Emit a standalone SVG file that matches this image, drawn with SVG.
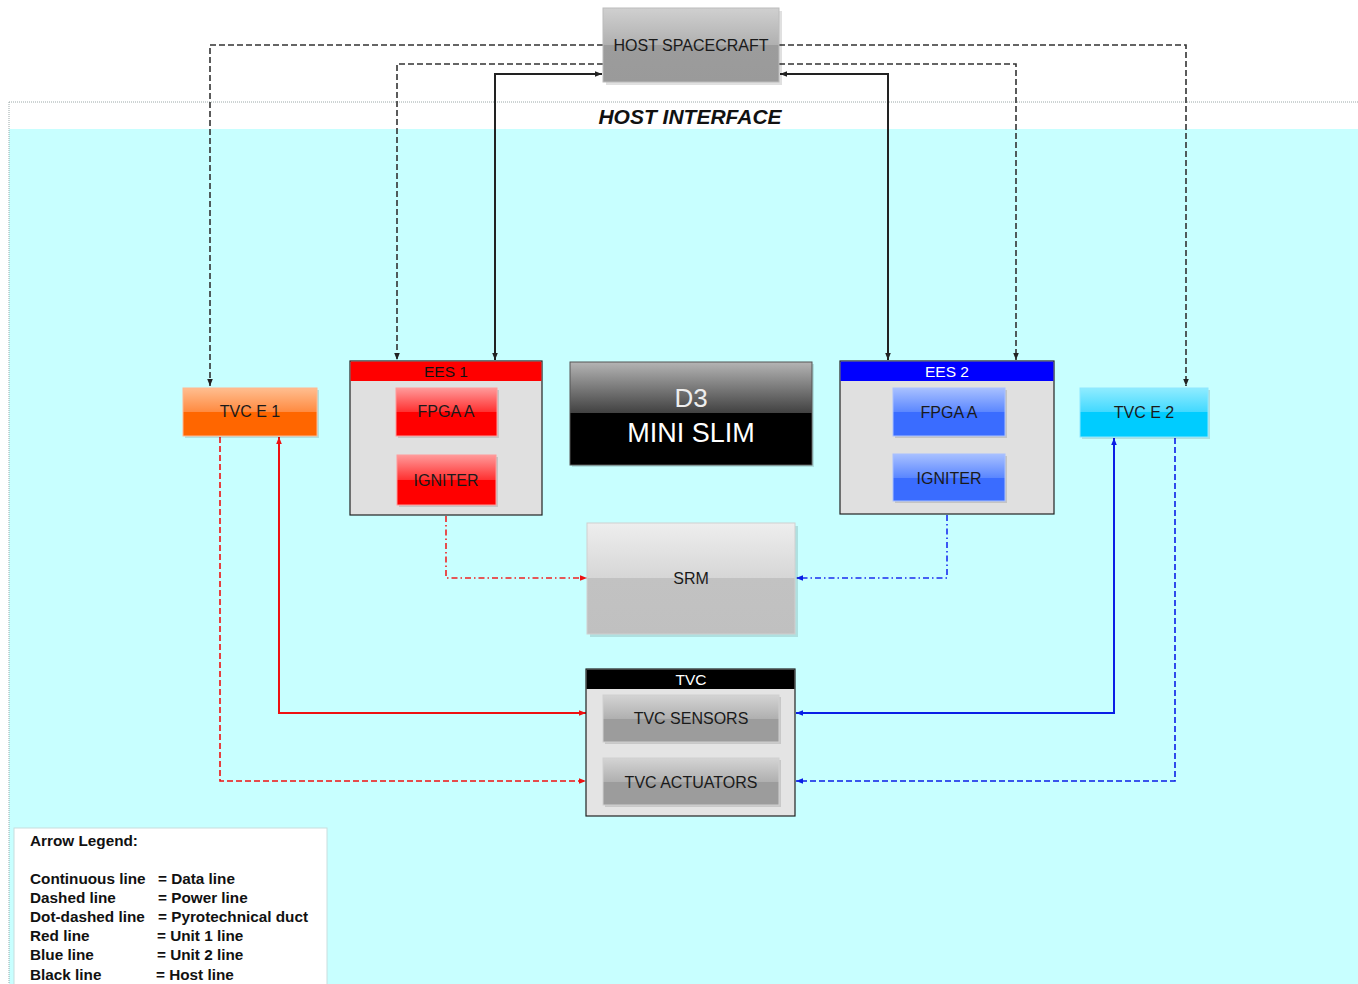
<svg xmlns="http://www.w3.org/2000/svg" width="1358" height="984" viewBox="0 0 1358 984">
<defs>
<style>
text{font-family:"Liberation Sans",Arial,sans-serif;}
.lbl{font-size:16px;fill:#1a1a1a;text-anchor:middle;}
.hdr{font-size:15.5px;text-anchor:middle;}
.leg{font-size:15.3px;font-weight:bold;fill:#111;}
.blk{stroke:#222;stroke-width:2;fill:none;}
.blkd{stroke:#333;stroke-width:1.6;fill:none;stroke-dasharray:6,3;}
.red{stroke:#ee1111;stroke-width:2;fill:none;}
.redd{stroke:#ee1111;stroke-width:1.6;fill:none;stroke-dasharray:6,3;}
.redp{stroke:#ee2222;stroke-width:1.6;fill:none;stroke-dasharray:6,3,1.5,3;}
.blu{stroke:#0a1ee6;stroke-width:2;fill:none;}
.blud{stroke:#0a1ee6;stroke-width:1.6;fill:none;stroke-dasharray:6,3;}
.blup{stroke:#1a2ef0;stroke-width:1.6;fill:none;stroke-dasharray:6,3,1.5,3;}
.shadow{fill:#000;opacity:0.12;}
</style>
<linearGradient id="gGrey" x1="0" y1="0" x2="0" y2="1">
<stop offset="0" stop-color="#d0d0d0"/><stop offset="0.5" stop-color="#b0b0b0"/><stop offset="0.5" stop-color="#9c9c9c"/><stop offset="1" stop-color="#9a9a9a"/>
</linearGradient>
<linearGradient id="gSrm" x1="0" y1="0" x2="0" y2="1">
<stop offset="0" stop-color="#eeeeee"/><stop offset="0.5" stop-color="#d6d6d6"/><stop offset="0.5" stop-color="#c2c2c2"/><stop offset="1" stop-color="#c0c0c0"/>
</linearGradient>
<linearGradient id="gTvcSub" x1="0" y1="0" x2="0" y2="1">
<stop offset="0" stop-color="#d4d4d4"/><stop offset="0.5" stop-color="#b0b0b0"/><stop offset="0.5" stop-color="#9c9c9c"/><stop offset="1" stop-color="#9c9c9c"/>
</linearGradient>
<linearGradient id="gRed" x1="0" y1="0" x2="0" y2="1">
<stop offset="0" stop-color="#ff9a9a"/><stop offset="0.5" stop-color="#ff3030"/><stop offset="0.5" stop-color="#ff0000"/><stop offset="1" stop-color="#ff0000"/>
</linearGradient>
<linearGradient id="gBlue" x1="0" y1="0" x2="0" y2="1">
<stop offset="0" stop-color="#a8c0ff"/><stop offset="0.5" stop-color="#5b87ff"/><stop offset="0.5" stop-color="#3a6cff"/><stop offset="1" stop-color="#3a6cff"/>
</linearGradient>
<linearGradient id="gOrange" x1="0" y1="0" x2="0" y2="1">
<stop offset="0" stop-color="#ffbe90"/><stop offset="0.5" stop-color="#ff8a40"/><stop offset="0.5" stop-color="#ff6600"/><stop offset="1" stop-color="#ff6600"/>
</linearGradient>
<linearGradient id="gCyan" x1="0" y1="0" x2="0" y2="1">
<stop offset="0" stop-color="#90ecff"/><stop offset="0.5" stop-color="#40d8ff"/><stop offset="0.5" stop-color="#00ccff"/><stop offset="1" stop-color="#00ccff"/>
</linearGradient>
<linearGradient id="gD3" x1="0" y1="0" x2="0" y2="1">
<stop offset="0" stop-color="#b4b4b4"/><stop offset="0.5" stop-color="#404040"/><stop offset="0.5" stop-color="#000000"/><stop offset="1" stop-color="#000000"/>
</linearGradient>
<marker id="aBlk" viewBox="0 0 10 10" refX="10" refY="5" markerWidth="7" markerHeight="7" markerUnits="userSpaceOnUse" orient="auto-start-reverse"><path d="M0,1 L10,5 L0,9 z" fill="#222"/></marker>
<marker id="aRed" viewBox="0 0 10 10" refX="10" refY="5" markerWidth="7" markerHeight="7" markerUnits="userSpaceOnUse" orient="auto-start-reverse"><path d="M0,1 L10,5 L0,9 z" fill="#ee1111"/></marker>
<marker id="aBlu" viewBox="0 0 10 10" refX="10" refY="5" markerWidth="7" markerHeight="7" markerUnits="userSpaceOnUse" orient="auto-start-reverse"><path d="M0,1 L10,5 L0,9 z" fill="#0a1ee6"/></marker>
</defs>

<!-- background -->
<rect x="0" y="0" width="1358" height="984" fill="#ffffff"/>
<rect x="9" y="129" width="1349" height="855" fill="#c8ffff"/>
<path d="M9,102 H1358 M9,102 V984" stroke="#9aa8a8" stroke-width="1" stroke-dasharray="1,1" fill="none"/>
<text x="690" y="124" font-size="21" font-weight="bold" font-style="italic" text-anchor="middle" fill="#111">HOST INTERFACE</text>

<!-- connectors -->
<g id="connectors">
<path class="blkd" d="M603,45 H210 V386" marker-end="url(#aBlk)"/>
<path class="blkd" d="M779,45 H1186 V386" marker-end="url(#aBlk)"/>
<path class="blkd" d="M603,64 H397 V360" marker-end="url(#aBlk)"/>
<path class="blkd" d="M779,64 H1016 V360" marker-end="url(#aBlk)"/>
<path class="blk" d="M602,74 H495 V360" marker-start="url(#aBlk)" marker-end="url(#aBlk)"/>
<path class="blk" d="M780,74 H888 V360" marker-start="url(#aBlk)" marker-end="url(#aBlk)"/>
<path class="redp" d="M446,516 V578 H587" marker-end="url(#aRed)"/>
<path class="blup" d="M947,515 V578 H796" marker-end="url(#aBlu)"/>
<path class="red" d="M279,437 V713 H586" marker-start="url(#aRed)" marker-end="url(#aRed)"/>
<path class="redd" d="M220,437 V781 H586" marker-end="url(#aRed)"/>
<path class="blu" d="M1114,438 V713 H796" marker-start="url(#aBlu)" marker-end="url(#aBlu)"/>
<path class="blud" d="M1175,438 V781 H796" marker-end="url(#aBlu)"/>
</g>

<!-- nodes -->
<g id="host-spacecraft">
<rect class="shadow" x="606" y="11" width="176" height="74"/>
<rect x="603" y="8" width="176" height="74" fill="url(#gGrey)" stroke="#bcbcbc" stroke-width="1"/>
<text class="lbl" x="691" y="51">HOST SPACECRAFT</text>
</g>

<g id="tvc-e1">
<rect class="shadow" x="185" y="390" width="134" height="48"/>
<rect x="183" y="388" width="134" height="48" fill="url(#gOrange)" stroke="#ffb890" stroke-width="1"/>
<text class="lbl" x="250" y="417">TVC E 1</text>
</g>

<g id="tvc-e2">
<rect class="shadow" x="1082" y="390" width="128" height="49"/>
<rect x="1080" y="388" width="128" height="49" fill="url(#gCyan)" stroke="#8fe8ff" stroke-width="1"/>
<text class="lbl" x="1144" y="418">TVC E 2</text>
</g>

<g id="ees1">
<rect x="350" y="361" width="192" height="154" fill="#e0e0e0" stroke="#222" stroke-width="1.2"/>
<rect x="350.6" y="361.6" width="190.8" height="19.4" fill="#ff0000"/>
<text class="hdr" x="446" y="377" fill="#111">EES 1</text>
<g id="ees1-fpga">
<rect class="shadow" x="398" y="390" width="101" height="48"/>
<rect x="396" y="388" width="101" height="48" fill="url(#gRed)" stroke="#ff9a9a" stroke-width="1"/>
<text class="lbl" x="446" y="417">FPGA A</text>
</g>
<g id="ees1-igniter">
<rect class="shadow" x="399" y="457" width="99" height="50"/>
<rect x="397" y="455" width="99" height="50" fill="url(#gRed)" stroke="#ff9a9a" stroke-width="1"/>
<text class="lbl" x="446" y="486">IGNITER</text>
</g>
</g>

<g id="ees2">
<rect x="840" y="361" width="214" height="153" fill="#e0e0e0" stroke="#222" stroke-width="1.2"/>
<rect x="840.6" y="361.6" width="212.8" height="19.4" fill="#0000ff"/>
<text class="hdr" x="947" y="377" fill="#ffffff">EES 2</text>
<g id="ees2-fpga">
<rect class="shadow" x="895" y="390" width="112" height="48"/>
<rect x="893" y="388" width="112" height="48" fill="url(#gBlue)" stroke="#a8c0ff" stroke-width="1"/>
<text class="lbl" x="949" y="418">FPGA A</text>
</g>
<g id="ees2-igniter">
<rect class="shadow" x="895" y="456" width="112" height="47"/>
<rect x="893" y="454" width="112" height="47" fill="url(#gBlue)" stroke="#a8c0ff" stroke-width="1"/>
<text class="lbl" x="949" y="484">IGNITER</text>
</g>
</g>

<g id="d3-mini-slim">
<rect class="shadow" x="572" y="364" width="242" height="103"/>
<rect x="570" y="362" width="242" height="103" fill="url(#gD3)" stroke="#555" stroke-width="1"/>
<text x="691" y="407" font-size="26" text-anchor="middle" fill="#eeeeee">D3</text>
<text x="691" y="442" font-size="27" text-anchor="middle" fill="#ffffff">MINI SLIM</text>
</g>

<g id="srm">
<rect class="shadow" x="590" y="526" width="208" height="111"/>
<rect x="587" y="523" width="208" height="111" fill="url(#gSrm)" stroke="#d0d0d0" stroke-width="1"/>
<text class="lbl" x="691" y="584">SRM</text>
</g>

<g id="tvc">
<rect x="586" y="669" width="209" height="147" fill="#e4e4e4" stroke="#222" stroke-width="1.2"/>
<rect x="586.6" y="669.6" width="207.8" height="19.4" fill="#000000"/>
<text class="hdr" x="691" y="685" fill="#ffffff">TVC</text>
<g id="tvc-sensors">
<rect class="shadow" x="605" y="697" width="176" height="47"/>
<rect x="603" y="695" width="176" height="47" fill="url(#gTvcSub)" stroke="#d0d0d0" stroke-width="1"/>
<text class="lbl" x="691" y="724">TVC SENSORS</text>
</g>
<g id="tvc-actuators">
<rect class="shadow" x="605" y="760" width="176" height="47"/>
<rect x="603" y="758" width="176" height="47" fill="url(#gTvcSub)" stroke="#d0d0d0" stroke-width="1"/>
<text class="lbl" x="691" y="788">TVC ACTUATORS</text>
</g>
</g>

<g id="legend">
<rect x="14" y="828" width="313" height="160" fill="#ffffff" stroke="#c8dede" stroke-width="1"/>
<text class="leg" x="30" y="846">Arrow Legend:</text>
<text class="leg" x="30" y="884">Continuous line</text><text class="leg" x="158" y="884">= Data line</text>
<text class="leg" x="30" y="903">Dashed line</text><text class="leg" x="158" y="903">= Power line</text>
<text class="leg" x="30" y="922">Dot-dashed line</text><text class="leg" x="158" y="922">= Pyrotechnical duct</text>
<text class="leg" x="30" y="941">Red line</text><text class="leg" x="157" y="941">= Unit 1 line</text>
<text class="leg" x="30" y="960">Blue line</text><text class="leg" x="157" y="960">= Unit 2 line</text>
<text class="leg" x="30" y="980">Black line</text><text class="leg" x="156" y="980">= Host line</text>
</g>
</svg>
